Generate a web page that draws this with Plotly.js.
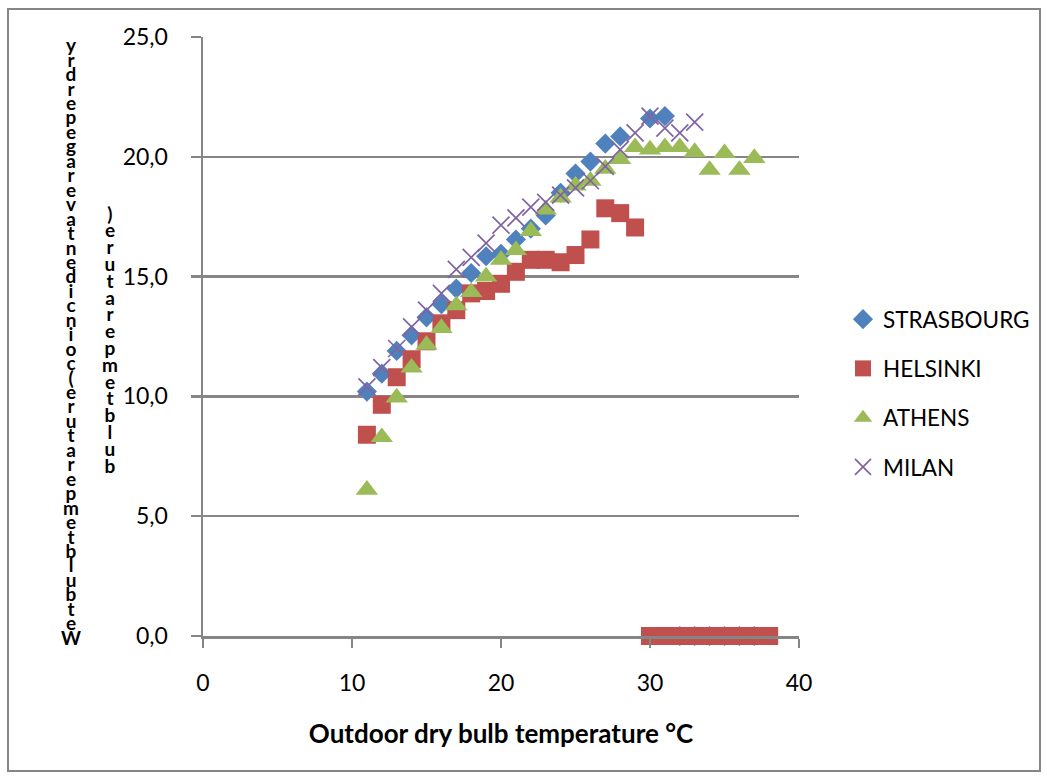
<!DOCTYPE html>
<html>
<head>
<meta charset="utf-8">
<script src="https://cdn.plot.ly/plotly-3.0.1.min.js"></script>
<style>html,body{margin:0;padding:0;background:#fff;}#chart{width:1047px;height:778px;}</style>
</head>
<body>
<div id="chart"></div>
<script>
const temps = [11,12,13,14,15,16,17,18,19,20,21,22,23,24,25,26,27,28,29,30,31,32,33,34,35,36,37,38];
const strasbourg = [10.2,10.95,11.9,12.55,13.3,13.85,14.5,15.15,15.85,15.95,16.55,17.0,17.55,18.5,19.3,19.8,20.55,20.85,null,21.6,21.7,0,0,0,0,0,0,null];
const helsinki = [8.4,9.65,10.8,11.55,12.3,13.05,13.6,14.3,14.4,14.7,15.2,15.7,15.7,15.6,15.9,16.55,17.85,17.65,17.05,0,0,0,0,0,0,0,0,0];
const athens = [6.1,8.3,9.95,11.2,12.15,12.85,13.8,14.35,15.0,15.7,16.1,16.9,17.8,18.3,18.8,19.0,19.5,19.9,20.4,20.3,20.4,20.4,20.2,19.45,20.15,19.45,19.95,null];
const milan = [10.4,11.2,12.0,12.9,13.6,14.3,15.3,15.8,16.4,17.15,17.45,17.9,18.1,18.4,18.7,19.0,19.6,20.3,21.0,21.7,21.2,21.0,21.45,null,null,null,null,null];
const seriesNames = ["STRASBOURG","HELSINKI","ATHENS","MILAN"];
const xTickVals = [0,10,20,30,40];
const yTickVals = [0,5,10,15,20,25];
const xTitle = "Outdoor dry bulb temperature °C";
const yTitleCol1 = "Wet bulb temperature (coincident average per dry";
const yTitleCol2 = "bulb temperature)";

const FONT = "Lato, 'Open Sans', sans-serif";
const W = 1047, H = 778;
const L = 203, R = 248, T = 37, B = 142;
const PW = W - L - R, PH = H - T - B;
const px2x = p => (p - L) / PW;
const px2y = p => (H - B - p) / PH;

const traces = [
  {y: strasbourg, marker: {symbol: 'diamond', size: 15.5, color: '#4F81BD'}},
  {y: helsinki, marker: {symbol: 'square', size: 18, color: '#C0504D'}},
  {y: athens, marker: {symbol: 'triangle-up', size: 19.5, color: '#9BBB59'}},
  {y: milan, marker: {symbol: 'x-thin', size: 17, color: '#8064A2', line: {color: '#8064A2', width: 1.7}}}
].map((t, i) => Object.assign({
  type: 'scatter', mode: 'markers', x: temps, name: seriesNames[i],
  legendgroup: 'g' + i, cliponaxis: false
}, t));

// y-title drawn as stacked letters (read bottom-to-top), as in the reference
const STEP1 = 14.45, STEP2 = 16.8;
function stackAnn(str, xpx, bottomPx) {
  const chars = str.replace(/ /g, '').split('').reverse();
  return {
    xref: 'paper', yref: 'paper', x: px2x(xpx), y: px2y(bottomPx),
    xanchor: 'center', yanchor: 'bottom', align: 'center',
    text: chars.map(c => '<b>' + c + '</b>').join('<br>'),
    showarrow: false, borderpad: 0,
    font: {family: FONT, size: 19, color: '#000'}
  };
}
const annotations = [stackAnn(yTitleCol1, 71, 650), stackAnn(yTitleCol2, 110, 478)];

const layout = {
  width: W, height: H,
  margin: {l: L, r: R, t: T, b: B, pad: 0, autoexpand: false},
  paper_bgcolor: '#fff', plot_bgcolor: '#fff',
  separators: ',.',
  font: {family: FONT, size: 23, color: '#000'},
  showlegend: true,
  legend: {
    x: px2x(843), y: px2y(298), xanchor: 'left', yanchor: 'top',
    font: {family: FONT, size: 22.5, color: '#000'},
    traceorder: 'grouped', tracegroupgap: 17, itemwidth: 30
  },
  xaxis: {
    range: [0, 40], tickvals: xTickVals, showgrid: false, zeroline: false,
    showline: true, linecolor: '#868686', linewidth: 2.5,
    ticks: 'outside', ticklen: 9, tickwidth: 2.5, tickcolor: '#868686',
    tickfont: {family: FONT, size: 23}, ticklabelstandoff: 16,
    title: {text: '<b>' + xTitle + '</b>', font: {family: FONT, size: 26}, standoff: 30}
  },
  yaxis: {
    range: [0, 25], tickvals: yTickVals, tickformat: '.1f',
    showgrid: true, gridcolor: '#868686', gridwidth: 2.5, zeroline: false,
    showline: true, linecolor: '#868686', linewidth: 2.5,
    ticks: 'outside', ticklen: 10, tickwidth: 2.5, tickcolor: '#868686',
    tickfont: {family: FONT, size: 23}, ticklabelstandoff: 18
  },
  annotations: annotations,
  shapes: [{
    type: 'rect', xref: 'paper', yref: 'paper',
    x0: px2x(8), x1: px2x(1040), y0: px2y(771), y1: px2y(9),
    line: {color: '#868686', width: 2}, layer: 'below'
  }]
};

Plotly.newPlot('chart', traces, layout, {displayModeBar: false, staticPlot: true}).then(gd => {
  // tighten the line spacing of the stacked title letters
  gd.querySelectorAll('text.annotation-text').forEach(t => {
    const lines = t.querySelectorAll('tspan.line');
    if (lines.length < 10) return;
    const step = lines.length > 30 ? STEP1 : STEP2;
    const bb0 = t.getBBox();
    const bottom0 = bb0.y + bb0.height;
    lines.forEach((ln, i) => ln.setAttribute('dy', (i * step) + 'px'));
    const bb1 = t.getBBox();
    const shift = bottom0 - (bb1.y + bb1.height);
    const prev = t.getAttribute('transform') || '';
    t.setAttribute('transform', (prev + ' translate(0,' + shift + ')').trim());
  });
  gd.querySelectorAll('.annotation rect.bg').forEach(r => r.setAttribute('height', 0));
});
</script>
</body>
</html>
